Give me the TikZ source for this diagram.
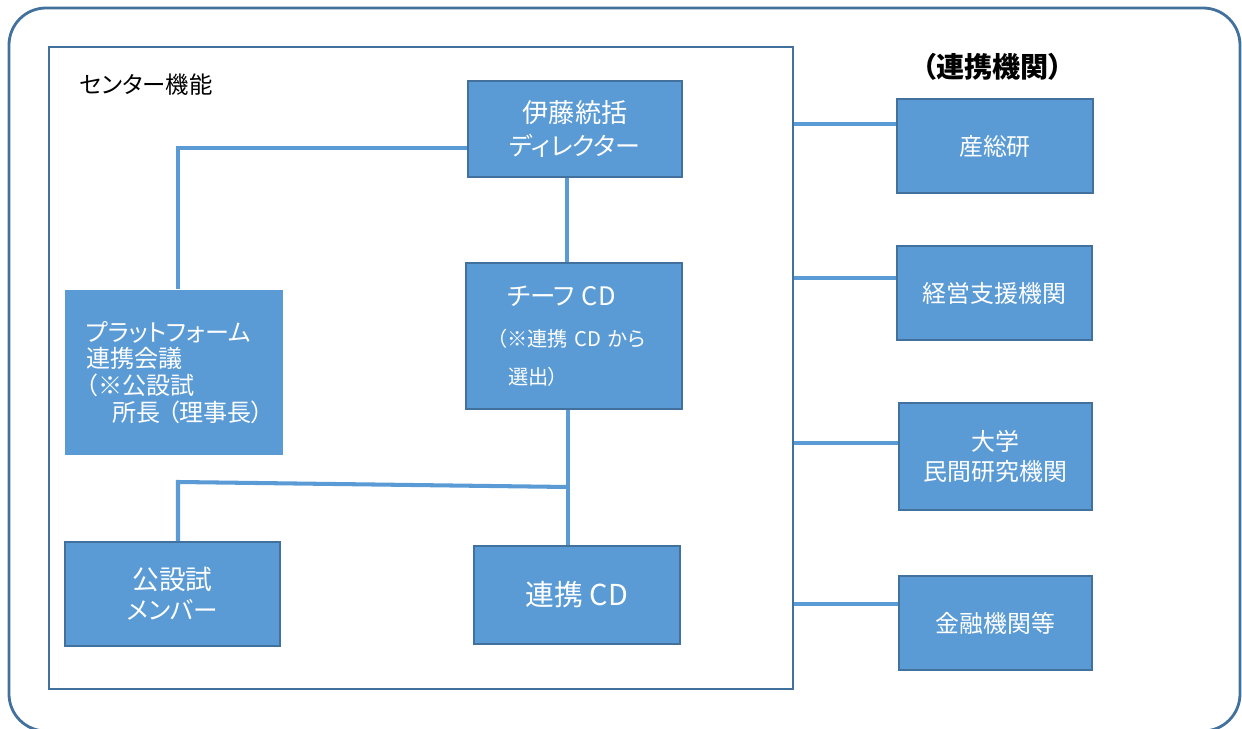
\documentclass[tikz,border=0pt]{standalone}
\usepackage{fontspec}
\setmainfont{Noto Sans CJK JP}[RawFeature=+palt]
\usepackage{xcolor}
\usetikzlibrary{calc}

\definecolor{boxfill}{RGB}{91,155,213}
\definecolor{boxline}{RGB}{65,113,156}

\tikzset{
	box/.style={draw=boxline, fill=boxfill, line width=1.1pt, text=white, inner sep=0pt, align=center, font=\fontsize{13.6pt}{17pt}\selectfont},
	link/.style={draw=boxfill, line width=2.3pt},
	frame/.style={draw=boxline, line width=1.1pt},
}

\begin{document}
\begin{tikzpicture}[x=0.02cm, y=-0.02cm]
		\useasboundingbox (0,0) rectangle (1242,729);
		
		\draw[boxline, line width=1.6pt, rounded corners=0.74cm] (9,8) rectangle (1240,731);
		
		\node[frame, minimum width=14.88cm, minimum height=12.84cm] (ctr) at (421,368) {};
		\node[anchor=west, inner sep=0pt, font=\fontsize{13.3pt}{15pt}\selectfont] (ctrname) at (79,85) {センター機能};
		\node[inner sep=0pt, font=\bfseries\fontsize{16pt}{18pt}\selectfont] (partners) at (992.5,67) {（連携機関）};
		
		% center
		\node[box, minimum width=4.28cm, minimum height=1.92cm, font=\fontsize{14.9pt}{19.3pt}\selectfont] (dir) at (575,129) {伊藤統括\\{\fontsize{14.2pt}{19.3pt}\selectfont ディレクター}};
		\node[box, minimum width=4.32cm, minimum height=2.92cm, text width=3.08cm, align=left, font=\fontsize{11.5pt}{21.5pt}\selectfont] (chief) at (574,336)
			{\hspace*{0.2cm}{\fontsize{14.5pt}{16pt}\selectfont チーフ CD}\\[2.3pt]（※連携 CD から\\\hspace*{0.22cm}選出）};
		\node[box, draw=none, minimum width=4.36cm, minimum height=3.3cm, text width=3.52cm, align=left, font=\fontsize{13.7pt}{15.3pt}\selectfont] (plat) at (174,372.5)
			{プラットフォーム\\連携会議\\（※公設試\\\hspace*{0.52cm}所長\kern0.3em（理事長）};
		\node[box, minimum width=4.3cm, minimum height=2.08cm, font=\fontsize{15.2pt}{17pt}\selectfont] (mem) at (172.5,594) {公設試\\{\fontsize{14pt}{17pt}\selectfont メンバー}};
		\node[box, minimum width=4.12cm, minimum height=1.96cm, font=\fontsize{16.4pt}{18pt}\selectfont] (cd) at (577,595) {連携 CD};
		
		% partners
		\node[box, minimum width=3.92cm, minimum height=1.88cm] (aist) at (995,146) {産総研};
		\node[box, minimum width=3.9cm, minimum height=1.88cm] (keiei) at (994.5,293) {経営支援機関};
		\node[box, minimum width=3.86cm, minimum height=2.14cm] (univ) at (995.5,456.5) {大学\\民間研究機関};
		\node[box, minimum width=3.86cm, minimum height=1.88cm] (fin) at (995.5,623) {金融機関等};
		
		\draw[link] ([yshift=-0.38cm]dir.west) -| ([xshift=0.08cm]plat.north);
		\draw[link] ([xshift=-0.16cm]dir.south) -- ([xshift=-0.16cm]dir.south |- chief.north);
		\draw[link] ([xshift=-0.12cm]chief.south) -- ([xshift=-0.12cm]chief.south |- cd.north);
		
		\coordinate (split) at (568,487);
		\coordinate (bend) at (178,482);
		\draw[link] (split) -- (bend) -- (bend |- mem.north);
		
		\foreach \n/\y in {aist/124, keiei/278, univ/443, fin/604}
			\draw[link] (ctr.east |- 0,\y) -- (\n.west |- 0,\y);
	\end{tikzpicture}
\end{document}
